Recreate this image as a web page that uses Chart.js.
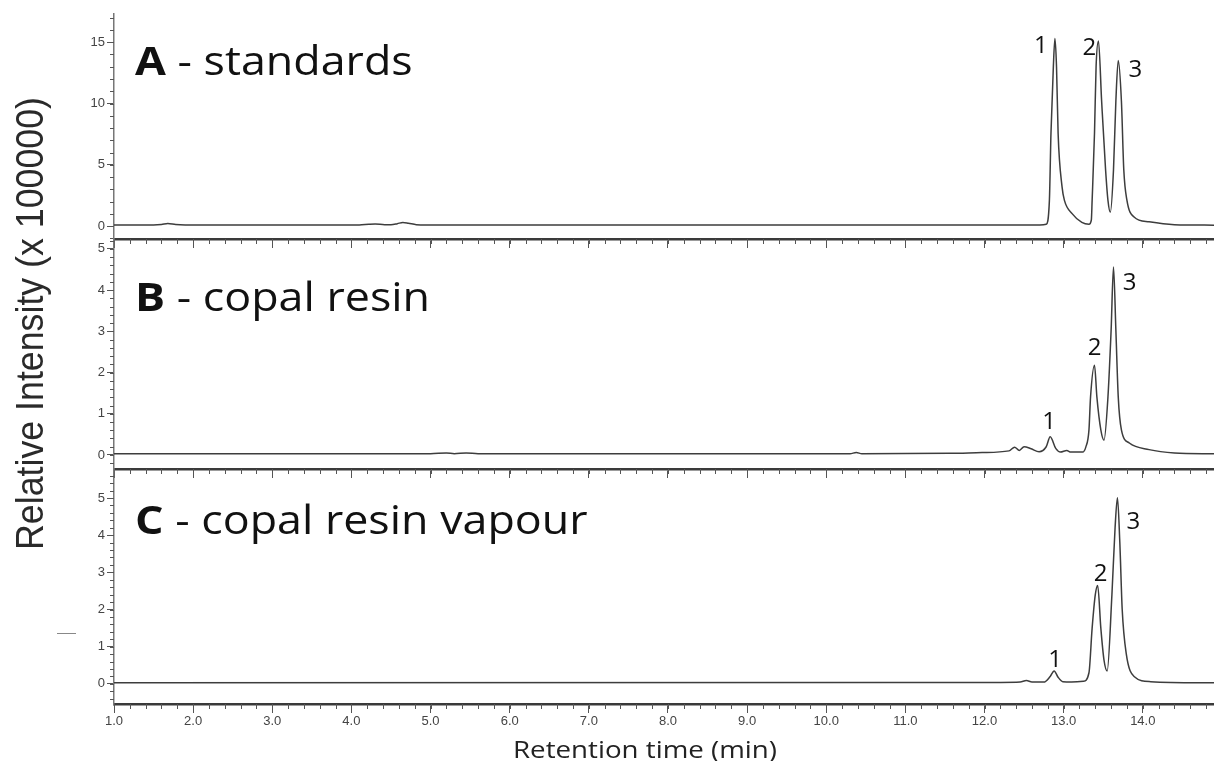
<!DOCTYPE html>
<html>
<head>
<meta charset="utf-8">
<script src="https://cdn.jsdelivr.net/npm/chart.js@4.4.1/dist/chart.umd.min.js"></script>
<style>
  html, body { margin: 0; padding: 0; background: #fff; }
  #wrap { position: relative; width: 1214px; height: 761px; }
  #wrap canvas { position: absolute; left: 0; top: 0; }
</style>
</head>
<body>
<div id="wrap">
  <canvas id="chartA" width="1214" height="761"></canvas>
  <canvas id="chartB" width="1214" height="761"></canvas>
  <canvas id="chartC" width="1214" height="761"></canvas>
</div>
<script>
// retention time (min) and intensity (x 100000) for each trace
const timesA = [1.0, 1.5, 1.6, 1.68, 1.78, 1.9, 4.1, 4.22, 4.3, 4.42, 4.5, 4.58, 4.65, 4.72, 4.82, 4.95,
  12.7, 12.78, 12.82, 12.84, 12.87, 12.89, 12.91, 12.93, 12.98, 13.01, 13.11, 13.23, 13.32, 13.35,
  13.36, 13.39, 13.41, 13.44, 13.48, 13.53, 13.56, 13.59, 13.63, 13.66, 13.69, 13.73, 13.76, 13.80,
  13.89, 14.08, 14.4, 14.9];
const valuesA = [0.1, 0.1, 0.14, 0.22, 0.13, 0.1, 0.1, 0.15, 0.17, 0.12, 0.12, 0.2, 0.3, 0.24, 0.12, 0.1,
  0.1, 0.15, 2.1, 7.6, 13.0, 15.3, 13.0, 7.6, 3.2, 2.1, 1.0, 0.3, 0.15, 0.5,
  2.1, 7.6, 13.0, 15.1, 10.2, 4.6, 2.1, 1.14, 4.6, 10.2, 13.5, 10.2, 4.6, 2.1,
  0.75, 0.35, 0.12, 0.08];

const timesB = [1.0, 5.0, 5.2, 5.3, 5.45, 5.6, 10.3, 10.38, 10.45, 11.56, 11.97, 12.31, 12.38, 12.44,
  12.50, 12.59, 12.69, 12.78, 12.83, 12.90, 12.96, 13.04, 13.09, 13.24, 13.28, 13.32, 13.34, 13.39,
  13.42, 13.47, 13.51, 13.56, 13.60, 13.63, 13.66, 13.69, 13.73, 13.83, 14.08, 14.4, 14.9];
const valuesB = [0.03, 0.03, 0.05, 0.03, 0.05, 0.03, 0.03, 0.06, 0.03, 0.04, 0.06, 0.1, 0.19, 0.11,
  0.2, 0.15, 0.08, 0.2, 0.44, 0.16, 0.07, 0.11, 0.07, 0.07, 0.19, 0.61, 1.41, 2.18,
  1.41, 0.61, 0.36, 1.41, 3.03, 4.56, 3.03, 1.41, 0.61, 0.29, 0.13, 0.05, 0.03];

const timesC = [1.0, 12.2, 12.45, 12.53, 12.6, 12.75, 12.83, 12.88, 12.93, 12.99, 13.1, 13.25, 13.32,
  13.36, 13.40, 13.43, 13.47, 13.51, 13.55, 13.61, 13.65, 13.68, 13.71, 13.74, 13.79, 13.89, 14.1, 14.9];
const valuesC = [0.03, 0.04, 0.05, 0.09, 0.05, 0.05, 0.2, 0.35, 0.18, 0.06, 0.05, 0.07, 0.3,
  1.5, 2.4, 2.65, 1.5, 0.64, 0.35, 2.4, 4.2, 5.01, 3.8, 2.0, 0.83, 0.2, 0.06, 0.03];

// retention times of the three numbered compounds in each trace
const peaksA = [12.89, 13.44, 13.69];
const peaksB = [12.83, 13.39, 13.63];
const peaksC = [12.88, 13.43, 13.68];
const peakNames = ['1', '2', '3'];

const timeTicks = [1.0, 2.0, 3.0, 4.0, 5.0, 6.0, 7.0, 8.0, 9.0, 10.0, 11.0, 12.0, 13.0, 14.0];
const ticksA = [0, 5, 10, 15];
const ticksB = [0, 1, 2, 3, 4, 5];
const ticksC = [0, 1, 2, 3, 4, 5];

const W = 1214, H = 761, AXIS_LEFT = 114;
const TEXT_FONT = '"Open Sans", "Noto Sans", sans-serif';
const LABEL_STRETCH = 1.12;

// short unlabeled ticks between the labelled ones
const minorTicks = {
  id: 'minorTicks',
  afterDraw(chart, args, o) {
    const { ctx, chartArea, scales: { x, y } } = chart;
    ctx.save();
    ctx.strokeStyle = '#555';
    ctx.lineWidth = 1;
    ctx.beginPath();
    const ny = Math.round((y.max - y.min) / o.yStep) + 1;
    const y0 = Math.ceil(y.min / o.yStep) * o.yStep;
    for (let i = 0; i < ny; i++) {
      const v = y0 + i * o.yStep;
      if (v > y.max) break;
      const py = Math.round(y.getPixelForValue(v)) + 0.5;
      ctx.moveTo(chartArea.left - 4, py);
      ctx.lineTo(chartArea.left, py);
    }
    const nx = Math.round((x.max - x.min) / o.xStep) + 1;
    for (let i = 0; i < nx; i++) {
      const v = x.min + i * o.xStep;
      if (v > x.max) break;
      const px = Math.round(x.getPixelForValue(v)) + 0.5;
      ctx.moveTo(px, chartArea.bottom);
      ctx.lineTo(px, chartArea.bottom + 5);
    }
    ctx.stroke();
    ctx.restore();
  }
};

// panel caption and the compound numbers next to each peak
const panelLabels = {
  id: 'panelLabels',
  afterDraw(chart, args, o) {
    const { ctx, chartArea, scales: { x, y } } = chart;
    ctx.save();
    ctx.fillStyle = '#111';
    ctx.textBaseline = 'alphabetic';
    ctx.translate(chartArea.left + 21, chartArea.top + o.dy);
    ctx.scale(LABEL_STRETCH, 1);
    ctx.font = 'bold 40px ' + TEXT_FONT;
    ctx.fillText(o.letter, 0, 0);
    const w = ctx.measureText(o.letter).width;
    ctx.font = '40px ' + TEXT_FONT;
    ctx.fillText(' - ' + o.name, w, 0);
    ctx.restore();

    const pts = chart.data.datasets[0].data;
    ctx.save();
    ctx.fillStyle = '#111';
    ctx.font = '24px ' + TEXT_FONT;
    ctx.textAlign = 'center';
    ctx.textBaseline = 'middle';
    o.peaks.forEach((t, i) => {
      const p = pts.find(d => d.x === t);
      const px = x.getPixelForValue(p.x) + o.offsets[i][0];
      const py = y.getPixelForValue(p.y) + o.offsets[i][1];
      ctx.fillText(peakNames[i], px, py);
    });
    ctx.restore();
  }
};

// shared axis titles, drawn once on the bottom panel
const axisTitles = {
  id: 'axisTitles',
  afterDraw(chart) {
    const { ctx } = chart;
    ctx.save();
    ctx.fillStyle = '#222';
    ctx.font = '24px ' + TEXT_FONT;
    ctx.textAlign = 'center';
    ctx.textBaseline = 'alphabetic';
    const xtitle = 'Retention time (min)';
    const xw = ctx.measureText(xtitle).width;
    ctx.translate(645, 758);
    ctx.scale(264 / xw, 1);
    ctx.fillText(xtitle, 0, 0);
    ctx.restore();

    ctx.save();
    ctx.fillStyle = '#2a2a2a';
    const ytitle = 'Relative Intensity (x 100000)';
    ctx.font = '38px "Liberation Sans", Arial';
    const tw = ctx.measureText(ytitle).width;
    ctx.translate(43, 550);
    ctx.rotate(-Math.PI / 2);
    ctx.scale(453 / tw, 1);
    ctx.textAlign = 'left';
    ctx.fillText(ytitle, 0, 0);
    ctx.restore();

    // stray short dash left of the lower panel
    ctx.save();
    ctx.strokeStyle = '#888';
    ctx.lineWidth = 1;
    ctx.beginPath();
    ctx.moveTo(57, 633.5);
    ctx.lineTo(76, 633.5);
    ctx.stroke();
    ctx.restore();
  }
};

function makePanel(id, cfg) {
  const points = cfg.times.map((t, i) => ({ x: t, y: cfg.values[i] }));
  const xHeight = cfg.showTimes ? 30 : 10;
  const plugins = [minorTicks, panelLabels];
  if (cfg.titles) plugins.push(axisTitles);
  return new Chart(document.getElementById(id), {
    type: 'line',
    data: {
      datasets: [{
        data: points,
        borderColor: '#3d3d3d',
        borderWidth: 1.5,
        pointRadius: 0,
        cubicInterpolationMode: 'monotone',
        fill: false
      }]
    },
    options: {
      responsive: false,
      animation: false,
      layout: {
        padding: { top: cfg.top, bottom: H - cfg.bottom - xHeight, left: 0, right: 0 }
      },
      plugins: {
        legend: { display: false },
        tooltip: { enabled: false },
        minorTicks: { yStep: cfg.yStep, xStep: 0.2 },
        panelLabels: { letter: cfg.letter, name: cfg.name, dy: cfg.labelDy, peaks: cfg.peaks, offsets: cfg.offsets }
      },
      scales: {
        x: {
          type: 'linear',
          min: 1.0,
          max: 14.9,
          afterBuildTicks: s => { s.ticks = timeTicks.map(v => ({ value: v })); },
          afterFit: s => { s.height = xHeight; },
          grid: { drawOnChartArea: false, tickLength: 9, tickColor: '#555', tickWidth: 1 },
          border: { color: '#3a3a3a', width: 2.5 },
          ticks: {
            display: cfg.showTimes,
            padding: 1,
            maxRotation: 0,
            autoSkip: false,
            color: '#444',
            font: { family: '"Liberation Sans", Arial', size: 13 },
            callback: v => v.toFixed(1)
          }
        },
        y: {
          min: cfg.yMin,
          max: cfg.yMax,
          afterBuildTicks: s => { s.ticks = cfg.yTicks.map(v => ({ value: v })); },
          afterFit: s => { s.width = AXIS_LEFT; },
          grid: { drawOnChartArea: false, tickLength: 7, tickColor: '#555', tickWidth: 1 },
          border: { color: '#777', width: 1.5 },
          ticks: {
            padding: 2,
            color: '#444',
            font: { family: '"Liberation Sans", Arial', size: 13 }
          }
        }
      }
    },
    plugins: plugins
  });
}

makePanel('chartA', {
  times: timesA, values: valuesA, top: 14, bottom: 239,
  yMin: -1.05, yMax: 17.3, yTicks: ticksA, yStep: 1,
  letter: 'A', name: 'standards', labelDy: 61,
  peaks: peaksA, offsets: [[-14, 8], [-9, 7], [17, 10]]
});
makePanel('chartB', {
  times: timesB, values: valuesB, top: 239, bottom: 469,
  yMin: -0.34, yMax: 5.24, yTicks: ticksB, yStep: 0.2,
  letter: 'B', name: 'copal resin', labelDy: 72,
  peaks: peaksB, offsets: [[-1, -15], [0, -17], [16, 16]]
});
makePanel('chartC', {
  times: timesC, values: valuesC, top: 469, bottom: 704,
  yMin: -0.54, yMax: 5.78, yTicks: ticksC, yStep: 0.2,
  letter: 'C', name: 'copal resin vapour', labelDy: 65,
  peaks: peaksC, offsets: [[1, -11], [3, -11], [16, 25]],
  showTimes: true, titles: true
});
</script>
</body>
</html>
